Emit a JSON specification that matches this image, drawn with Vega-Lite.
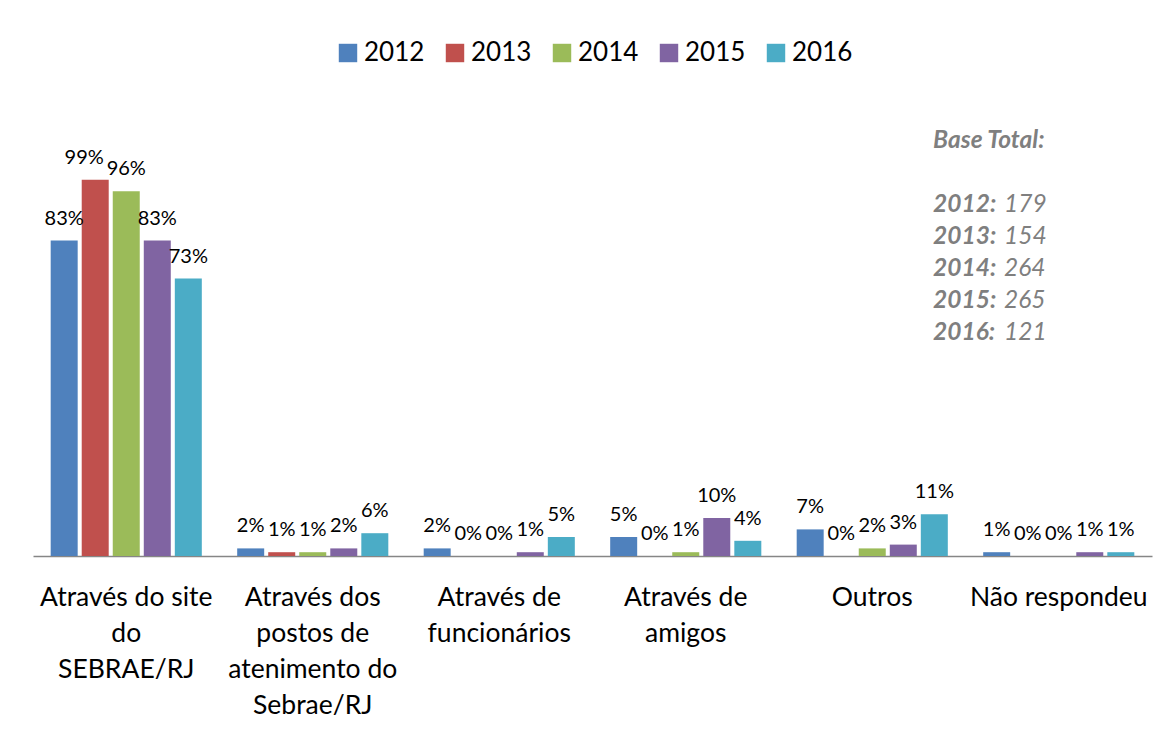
{
  "$schema": "https://vega.github.io/schema/vega-lite/v6.json",
  "width": 1119,
  "height": 456,
  "autosize": {"type": "none"},
  "padding": {"left": 33, "top": 100, "right": 14, "bottom": 175},
  "background": "white",
  "config": {"view": {"stroke": null}, "font": "Lato"},
  "layer": [
    {
      "data": {
        "values": [
          {"cat": "Através do site|do|SEBRAE/RJ", "year": "2012", "v": 0.83},
          {"cat": "Através do site|do|SEBRAE/RJ", "year": "2013", "v": 0.99},
          {"cat": "Através do site|do|SEBRAE/RJ", "year": "2014", "v": 0.96},
          {"cat": "Através do site|do|SEBRAE/RJ", "year": "2015", "v": 0.83},
          {"cat": "Através do site|do|SEBRAE/RJ", "year": "2016", "v": 0.73},
          {"cat": "Através dos|postos de|atenimento do|Sebrae/RJ", "year": "2012", "v": 0.02},
          {"cat": "Através dos|postos de|atenimento do|Sebrae/RJ", "year": "2013", "v": 0.01},
          {"cat": "Através dos|postos de|atenimento do|Sebrae/RJ", "year": "2014", "v": 0.01},
          {"cat": "Através dos|postos de|atenimento do|Sebrae/RJ", "year": "2015", "v": 0.02},
          {"cat": "Através dos|postos de|atenimento do|Sebrae/RJ", "year": "2016", "v": 0.06},
          {"cat": "Através de|funcionários", "year": "2012", "v": 0.02},
          {"cat": "Através de|funcionários", "year": "2013", "v": 0},
          {"cat": "Através de|funcionários", "year": "2014", "v": 0},
          {"cat": "Através de|funcionários", "year": "2015", "v": 0.01},
          {"cat": "Através de|funcionários", "year": "2016", "v": 0.05},
          {"cat": "Através de|amigos", "year": "2012", "v": 0.05},
          {"cat": "Através de|amigos", "year": "2013", "v": 0},
          {"cat": "Através de|amigos", "year": "2014", "v": 0.01},
          {"cat": "Através de|amigos", "year": "2015", "v": 0.10},
          {"cat": "Através de|amigos", "year": "2016", "v": 0.04},
          {"cat": "Outros", "year": "2012", "v": 0.07},
          {"cat": "Outros", "year": "2013", "v": 0},
          {"cat": "Outros", "year": "2014", "v": 0.02},
          {"cat": "Outros", "year": "2015", "v": 0.03},
          {"cat": "Outros", "year": "2016", "v": 0.11},
          {"cat": "Não respondeu", "year": "2012", "v": 0.01},
          {"cat": "Não respondeu", "year": "2013", "v": 0},
          {"cat": "Não respondeu", "year": "2014", "v": 0},
          {"cat": "Não respondeu", "year": "2015", "v": 0.01},
          {"cat": "Não respondeu", "year": "2016", "v": 0.01}
        ]
      },
      "encoding": {
        "x": {
          "field": "cat",
          "type": "nominal",
          "sort": null,
          "scale": {"paddingInner": 0, "paddingOuter": 0},
          "axis": {
            "title": null,
            "labelAngle": 0,
            "labelExpr": "split(datum.label, '|')",
            "labelFont": "Lato",
            "labelFontSize": 26.5,
            "labelLineHeight": 36,
            "labelColor": "#000000",
            "labelPadding": 28,
            "labelBaseline": "top",
            "labelLimit": 0,
            "ticks": false,
            "domainColor": "#868686",
            "domainWidth": 1.3
          }
        },
        "xOffset": {
          "field": "year",
          "type": "nominal",
          "scale": {"paddingInner": 0.13, "paddingOuter": 0.57}
        },
        "y": {
          "field": "v",
          "type": "quantitative",
          "scale": {"domain": [0, 1.2]},
          "axis": null
        }
      },
      "layer": [
        {
          "mark": {"type": "bar"},
          "encoding": {
            "color": {
              "field": "year",
              "type": "nominal",
              "scale": {
                "domain": ["2012", "2013", "2014", "2015", "2016"],
                "range": ["#4F81BD", "#C0504D", "#9BBB59", "#8064A2", "#4BACC6"]
              },
              "legend": {
                "title": null,
                "orient": "none",
                "direction": "horizontal",
                "columns": 5,
                "legendX": 302,
                "legendY": -60,
                "symbolType": "square",
                "symbolSize": 340,
                "symbolOpacity": 1,
                "symbolStrokeWidth": 0,
                "labelFont": "Lato",
                "labelFontSize": 26,
                "labelColor": "#000000",
                "labelOffset": 3,
                "columnPadding": 17
              }
            }
          }
        },
        {
          "transform": [{"filter": "!(datum.year == '2013' && datum.v > 0.9)"}],
          "mark": {"type": "text", "baseline": "bottom", "dy": -12, "fontSize": 20, "font": "Lato", "color": "#000000"},
          "encoding": {
            "text": {"field": "v", "type": "quantitative", "format": ".0%"}
          }
        },
        {
          "transform": [{"filter": "datum.year == '2013' && datum.v > 0.9"}],
          "mark": {"type": "text", "baseline": "bottom", "dy": -12, "dx": -11, "fontSize": 20, "font": "Lato", "color": "#000000"},
          "encoding": {
            "text": {"field": "v", "type": "quantitative", "format": ".0%"}
          }
        }
      ]
    },
    {
      "data": {
        "values": [
          {"line": "Base Total:", "bold": "Base Total:", "num": ""},
          {"line": "2012", "bold": "2012:", "num": "179"},
          {"line": "2013", "bold": "2013:", "num": "154"},
          {"line": "2014", "bold": "2014:", "num": "264"},
          {"line": "2015", "bold": "2015:", "num": "265"},
          {"line": "2016", "bold": "2016:", "num": "121"}
        ]
      },
      "encoding": {
        "x": {"datum": "Outros", "bandPosition": 0.826},
        "y": {
          "field": "line",
          "type": "ordinal",
          "scale": {
            "type": "point",
            "domain": ["Base Total:", "gap", "2012", "2013", "2014", "2015", "2016"],
            "range": [41, 233],
            "padding": 0
          },
          "axis": null
        }
      },
      "layer": [
        {
          "mark": {"type": "text", "align": "left", "baseline": "middle", "fontSize": 24.5, "font": "Lato", "fontStyle": "italic", "fontWeight": "bold", "color": "#7F7F7F"},
          "encoding": {"text": {"field": "bold"}}
        },
        {
          "mark": {"type": "text", "align": "left", "baseline": "middle", "dx": 71, "fontSize": 24.5, "font": "Lato", "fontStyle": "italic", "color": "#7F7F7F"},
          "encoding": {"text": {"field": "num"}}
        }
      ]
    }
  ],
  "resolve": {"scale": {"y": "independent"}}
}
